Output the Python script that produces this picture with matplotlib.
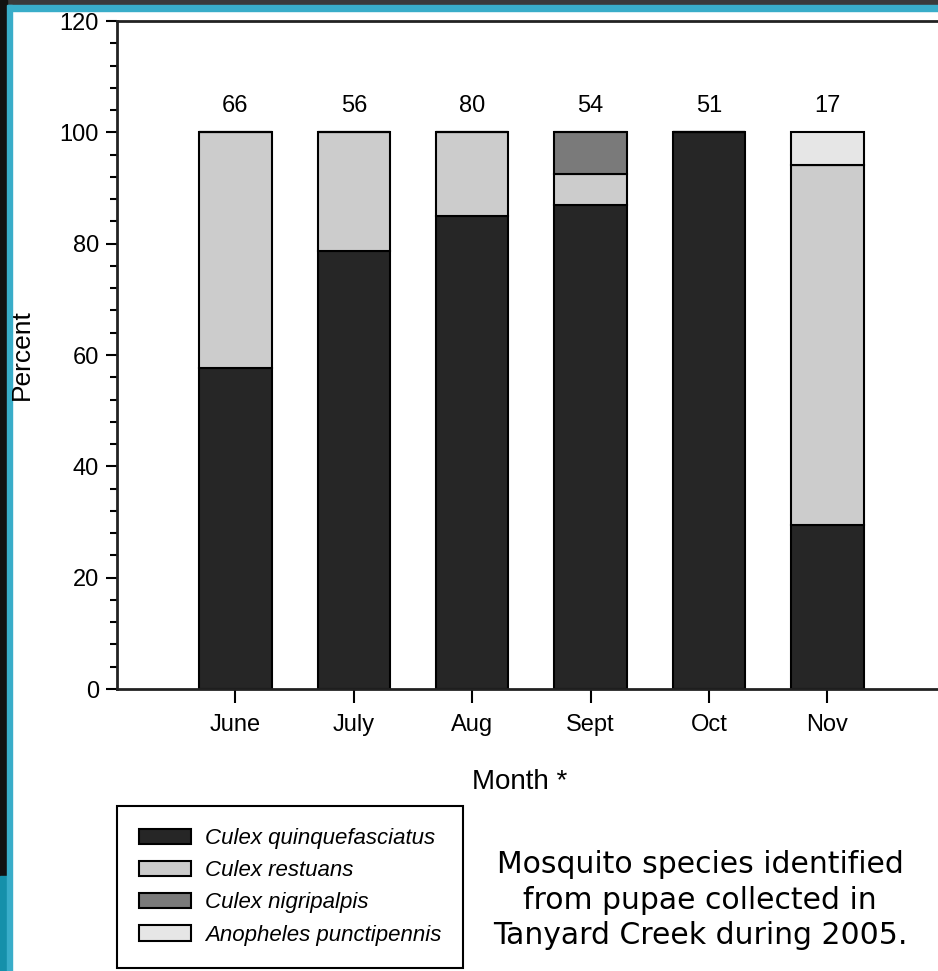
import numpy as np
import matplotlib.pyplot as plt
from matplotlib.patches import Rectangle, Patch
from matplotlib.ticker import MultipleLocator

# Data
months = ["June", "July", "Aug", "Sept", "Oct", "Nov"]
counts = [66, 56, 80, 54, 51, 17]
quinquefasciatus = [57.6, 78.6, 85.0, 87.0, 100.0, 29.4]
restuans = [42.4, 21.4, 15.0, 5.6, 0.0, 64.7]
nigripalpis = [0.0, 0.0, 0.0, 7.4, 0.0, 0.0]
punctipennis = [0.0, 0.0, 0.0, 0.0, 0.0, 5.9]

species = ["Culex quinquefasciatus", "Culex restuans",
           "Culex nigripalpis", "Anopheles punctipennis"]
colors = ["#262626", "#cccccc", "#7a7a7a", "#e6e6e6"]

plt.rcParams['font.family'] = ['Liberation Sans', 'DejaVu Sans']

W, H = 938, 971
fig = plt.figure(figsize=(W / 100, H / 100), dpi=100)
fig.patch.set_facecolor("white")

# slide frame
fig.patches.append(Rectangle((0, 1 - 5 / H), 1, 5 / H, transform=fig.transFigure,
                             color="#3a3a3a", zorder=0))
fig.patches.append(Rectangle((0, 1 - 11 / H), 1, 6 / H, transform=fig.transFigure,
                             color="#39adc9", zorder=0))
fig.patches.append(Rectangle((0, 0), 7 / W, 1, transform=fig.transFigure,
                             color="#111111", zorder=0))
fig.patches.append(Rectangle((0, 0), 7 / W, 95 / H, transform=fig.transFigure,
                             color="#1590aa", zorder=0))
fig.patches.append(Rectangle((7 / W, 0), 5 / W, 1 - 5 / H, transform=fig.transFigure,
                             color="#39adc9", zorder=0))

# axes: left spine at x=117, y=0 at 689, y=120 at 21; x spacing 118.4 px
step = 118.4
left = 117 / W
bottom = 1 - 689 / H
height = (689 - 21) / H
width = 8 * step / W
ax = fig.add_axes([left, bottom, width, height])

x = np.arange(len(months))
bw = 0.61
stack = [quinquefasciatus, restuans, nigripalpis, punctipennis]
base = np.zeros(len(months))
for vals, c in zip(stack, colors):
    vals = np.array(vals)
    ax.bar(x, vals, bw, bottom=base, color=c, edgecolor="black", linewidth=1.5,
           zorder=2)
    base += vals

for xi, n in zip(x, counts):
    ax.text(xi, 104.8, str(n), ha="center", va="center", fontsize=17)

ax.set_xlim(-1, 7)
ax.set_ylim(0, 120)
ax.set_xticks(x)
ax.set_xticklabels(months, fontsize=17)
ax.yaxis.set_major_locator(MultipleLocator(20))
ax.yaxis.set_minor_locator(MultipleLocator(4))
ax.tick_params(axis="y", which="major", direction="out", length=8, width=1.5,
               labelsize=17, pad=5)
ax.tick_params(axis="y", which="minor", direction="out", length=5, width=1.5)
ax.tick_params(axis="x", direction="out", length=10, width=1.5, pad=8)
for s in ax.spines.values():
    s.set_linewidth(2)
    s.set_color("#222222")
ax.spines["right"].set_visible(False)

fig.text(22 / W, 1 - 355 / H, "Percent", rotation=90, ha="center", va="center",
         fontsize=19)
fig.text(520 / W, 1 - 782 / H, "Month *", ha="center", va="center", fontsize=20)

handles = [Patch(facecolor=c, edgecolor="black", linewidth=1.5) for c in colors]
leg = fig.legend(handles, species, loc="upper left",
                 bbox_to_anchor=(117 / W, 1 - 806 / H),
                 frameon=True, fancybox=False, edgecolor="black", framealpha=1,
                 prop={"style": "italic", "size": 16}, handlelength=2.35,
                 handleheight=0.7, handletextpad=0.6, labelspacing=0.5,
                 borderpad=1.0, borderaxespad=0)
leg.get_frame().set_linewidth(1.5)

fig.text(700 / W, 1 - 900 / H,
         "Mosquito species identified\nfrom pupae collected in\nTanyard Creek during 2005.",
         ha="center", va="center", fontsize=21.5, linespacing=1.3,
         family="DejaVu Sans")

fig.savefig("out.png", dpi=100)
